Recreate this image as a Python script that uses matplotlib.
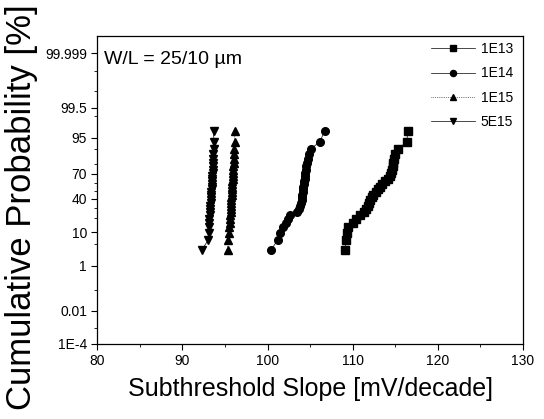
import numpy as np
import matplotlib
matplotlib.use("Agg")
import matplotlib.pyplot as plt
from statistics import NormalDist

plt.rcParams['font.family'] = ['Liberation Sans', 'DejaVu Sans']

# cumulative probability [%] of each ranked sample (same for every series)
cum_prob = [3.2, 6.5, 9.7, 12.9, 16.1, 19.4, 22.6, 25.8, 29.0, 32.3,
            35.5, 38.7, 41.9, 45.2, 48.4, 51.6, 54.8, 58.1, 61.3, 64.5,
            67.7, 71.0, 74.2, 77.4, 80.6, 83.9, 87.1, 90.3, 93.5, 96.8]

# subthreshold slope [mV/decade]
ss_1e13 = [109.1, 109.2, 109.3, 109.5, 110.0, 110.4, 110.85, 111.3, 111.6, 111.75,
           111.9, 112.1, 112.3, 112.45, 112.7, 112.95, 113.2, 113.5, 113.8, 114.15,
           114.35, 114.55, 114.62, 114.7, 114.8, 114.88, 114.98, 115.35, 116.35, 116.5]
ss_1e14 = [100.4, 101.2, 101.5, 101.85, 102.2, 102.45, 102.6, 103.5, 103.75, 103.85,
           103.95, 104.03, 104.06, 104.1, 104.12, 104.15, 104.2, 104.25, 104.3, 104.35,
           104.4, 104.45, 104.5, 104.57, 104.65, 104.75, 104.85, 105.05, 106.15, 106.7]
ss_1e15 = [95.3, 95.35, 95.45, 95.5, 95.55, 95.58, 95.62, 95.65, 95.68, 95.7,
           95.72, 95.74, 95.76, 95.78, 95.8, 95.82, 95.84, 95.86, 95.88, 95.9,
           95.92, 95.94, 95.96, 95.98, 96.0, 96.03, 96.06, 96.1, 96.12, 96.15]
ss_5e15 = [92.25, 93.05, 93.1, 93.12, 93.15, 93.17, 93.2, 93.22, 93.25, 93.27,
           93.3, 93.32, 93.35, 93.37, 93.4, 93.42, 93.44, 93.46, 93.48, 93.5,
           93.52, 93.54, 93.56, 93.58, 93.6, 93.62, 93.64, 93.66, 93.7, 93.65]

yticks = [1e-4, 0.01, 1, 10, 40, 70, 95, 99.5, 99.999]
ytick_labels = ['1E-4', '0.01', '1', '10', '40', '70', '95', '99.5', '99.999']
yminor = [0.001, 0.1, 5, 20, 30, 50, 60, 80, 90, 99, 99.9, 99.99]

_nd = NormalDist()
_ppf = np.vectorize(lambda p: _nd.inv_cdf(p))
_cdf = np.vectorize(lambda z: _nd.cdf(z))


def prob_fwd(p):
    p = np.clip(np.asarray(p, dtype=float) / 100.0, 1e-15, 1 - 1e-15)
    return _ppf(p)


def prob_inv(z):
    return _cdf(np.asarray(z, dtype=float)) * 100.0


fig = plt.figure(figsize=(5.44, 4.19), dpi=100)
ax = fig.add_axes([0.179, 0.179, 0.782, 0.735])
ax.set_yscale('function', functions=(prob_fwd, prob_inv))

series = [
    (ss_1e13, 's', '1E13', '-'),
    (ss_1e14, 'o', '1E14', '-'),
    (ss_1e15, '^', '1E15', ':'),
    (ss_5e15, 'v', '5E15', '-'),
]
for xs, mk, lab, ls in series:
    ax.plot(xs, cum_prob, marker=mk, ms=5.5, color='black', lw=0.5,
            ls=ls, label=lab)

ax.set_xlim(80, 130)
ax.set_ylim(1e-4, 99.99992)
ax.set_xticks(np.arange(80, 131, 10))
ax.set_xticks(np.arange(85, 130, 10), minor=True)
ax.set_yticks(yticks)
ax.set_yticklabels(ytick_labels)
ax.set_yticks(yminor, minor=True)
ax.yaxis.set_minor_formatter(matplotlib.ticker.NullFormatter())

ax.tick_params(which='major', direction='out', length=4, width=0.8, labelsize=10)
ax.tick_params(which='minor', direction='out', length=2, width=0.6)
for sp in ax.spines.values():
    sp.set_linewidth(0.9)

ax.set_xlabel('Subthreshold Slope [mV/decade]', fontsize=18, labelpad=6)
fig.text(0.039, 0.505, 'Cumulative Probability [%]', rotation=90,
         fontsize=25, ha='center', va='center')

ax.text(0.015, 0.925, 'W/L = 25/10 \u00b5m', transform=ax.transAxes,
        fontsize=14, va='center', ha='left')

ax.legend(loc='upper right', bbox_to_anchor=(1.0, 1.012), frameon=False,
          fontsize=10, handlelength=3.2, handletextpad=0.4, markerscale=0.8,
          labelspacing=0.75, borderaxespad=0.3)

fig.savefig('out.png', dpi=100)
